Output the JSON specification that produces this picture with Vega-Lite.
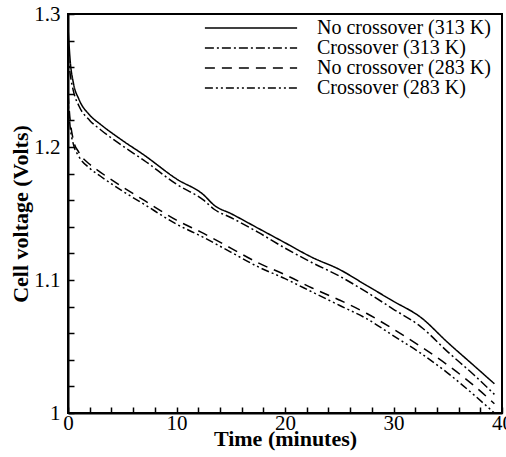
{
  "$schema": "https://vega.github.io/schema/vega-lite/v6.json",
  "width": 434,
  "height": 399,
  "autosize": {"type": "none"},
  "padding": {"left": 68, "top": 14, "right": 4, "bottom": 44},
  "background": "white",
  "config": {
    "view": {"stroke": "black", "strokeWidth": 2},
    "font": "Liberation Serif",
    "axis": {"grid": false, "domainColor": "black", "domainWidth": 2, "tickColor": "black", "tickWidth": 1.5, "labelColor": "black", "labelFont": "Liberation Serif", "labelFontSize": 21, "titleFont": "Liberation Serif", "titleFontSize": 22, "titleFontWeight": "bold", "titleColor": "black", "labelOverlap": false, "labelFlush": false}
  },
  "data": {"values": [
    {"t": 0, "v": 1.290, "s": "No crossover (313 K)"},
    {"t": 0.2, "v": 1.265, "s": "No crossover (313 K)"},
    {"t": 0.5, "v": 1.248, "s": "No crossover (313 K)"},
    {"t": 1, "v": 1.236, "s": "No crossover (313 K)"},
    {"t": 2, "v": 1.224, "s": "No crossover (313 K)"},
    {"t": 3, "v": 1.217, "s": "No crossover (313 K)"},
    {"t": 5, "v": 1.205, "s": "No crossover (313 K)"},
    {"t": 7, "v": 1.194, "s": "No crossover (313 K)"},
    {"t": 10, "v": 1.176, "s": "No crossover (313 K)"},
    {"t": 12.5, "v": 1.164, "s": "No crossover (313 K)"},
    {"t": 13.5, "v": 1.156, "s": "No crossover (313 K)"},
    {"t": 15, "v": 1.150, "s": "No crossover (313 K)"},
    {"t": 17.5, "v": 1.139, "s": "No crossover (313 K)"},
    {"t": 20, "v": 1.128, "s": "No crossover (313 K)"},
    {"t": 22.5, "v": 1.117, "s": "No crossover (313 K)"},
    {"t": 25, "v": 1.108, "s": "No crossover (313 K)"},
    {"t": 27.5, "v": 1.096, "s": "No crossover (313 K)"},
    {"t": 30, "v": 1.084, "s": "No crossover (313 K)"},
    {"t": 32.5, "v": 1.072, "s": "No crossover (313 K)"},
    {"t": 35, "v": 1.053, "s": "No crossover (313 K)"},
    {"t": 37.5, "v": 1.035, "s": "No crossover (313 K)"},
    {"t": 39.3, "v": 1.022, "s": "No crossover (313 K)"},
    {"t": 0, "v": 1.270, "s": "Crossover (313 K)"},
    {"t": 0.2, "v": 1.255, "s": "Crossover (313 K)"},
    {"t": 0.5, "v": 1.242, "s": "Crossover (313 K)"},
    {"t": 1, "v": 1.231, "s": "Crossover (313 K)"},
    {"t": 2, "v": 1.220, "s": "Crossover (313 K)"},
    {"t": 3, "v": 1.213, "s": "Crossover (313 K)"},
    {"t": 5, "v": 1.201, "s": "Crossover (313 K)"},
    {"t": 7, "v": 1.190, "s": "Crossover (313 K)"},
    {"t": 10, "v": 1.172, "s": "Crossover (313 K)"},
    {"t": 12.5, "v": 1.160, "s": "Crossover (313 K)"},
    {"t": 13.5, "v": 1.153, "s": "Crossover (313 K)"},
    {"t": 15, "v": 1.147, "s": "Crossover (313 K)"},
    {"t": 17.5, "v": 1.136, "s": "Crossover (313 K)"},
    {"t": 20, "v": 1.124, "s": "Crossover (313 K)"},
    {"t": 22.5, "v": 1.113, "s": "Crossover (313 K)"},
    {"t": 25, "v": 1.103, "s": "Crossover (313 K)"},
    {"t": 27.5, "v": 1.091, "s": "Crossover (313 K)"},
    {"t": 30, "v": 1.078, "s": "Crossover (313 K)"},
    {"t": 32.5, "v": 1.065, "s": "Crossover (313 K)"},
    {"t": 35, "v": 1.046, "s": "Crossover (313 K)"},
    {"t": 37.5, "v": 1.028, "s": "Crossover (313 K)"},
    {"t": 39.3, "v": 1.014, "s": "Crossover (313 K)"},
    {"t": 0, "v": 1.240, "s": "No crossover (283 K)"},
    {"t": 0.2, "v": 1.220, "s": "No crossover (283 K)"},
    {"t": 0.5, "v": 1.205, "s": "No crossover (283 K)"},
    {"t": 1, "v": 1.196, "s": "No crossover (283 K)"},
    {"t": 2, "v": 1.187, "s": "No crossover (283 K)"},
    {"t": 3, "v": 1.181, "s": "No crossover (283 K)"},
    {"t": 5, "v": 1.170, "s": "No crossover (283 K)"},
    {"t": 7, "v": 1.160, "s": "No crossover (283 K)"},
    {"t": 10, "v": 1.145, "s": "No crossover (283 K)"},
    {"t": 12.5, "v": 1.135, "s": "No crossover (283 K)"},
    {"t": 15, "v": 1.124, "s": "No crossover (283 K)"},
    {"t": 17.5, "v": 1.113, "s": "No crossover (283 K)"},
    {"t": 20, "v": 1.104, "s": "No crossover (283 K)"},
    {"t": 22.5, "v": 1.094, "s": "No crossover (283 K)"},
    {"t": 25, "v": 1.085, "s": "No crossover (283 K)"},
    {"t": 27.5, "v": 1.075, "s": "No crossover (283 K)"},
    {"t": 30, "v": 1.063, "s": "No crossover (283 K)"},
    {"t": 32.5, "v": 1.050, "s": "No crossover (283 K)"},
    {"t": 35, "v": 1.036, "s": "No crossover (283 K)"},
    {"t": 37.5, "v": 1.020, "s": "No crossover (283 K)"},
    {"t": 39.3, "v": 1.007, "s": "No crossover (283 K)"},
    {"t": 0, "v": 1.235, "s": "Crossover (283 K)"},
    {"t": 0.2, "v": 1.215, "s": "Crossover (283 K)"},
    {"t": 0.5, "v": 1.202, "s": "Crossover (283 K)"},
    {"t": 1, "v": 1.193, "s": "Crossover (283 K)"},
    {"t": 2, "v": 1.184, "s": "Crossover (283 K)"},
    {"t": 3, "v": 1.178, "s": "Crossover (283 K)"},
    {"t": 5, "v": 1.167, "s": "Crossover (283 K)"},
    {"t": 7, "v": 1.157, "s": "Crossover (283 K)"},
    {"t": 10, "v": 1.142, "s": "Crossover (283 K)"},
    {"t": 12.5, "v": 1.132, "s": "Crossover (283 K)"},
    {"t": 15, "v": 1.121, "s": "Crossover (283 K)"},
    {"t": 17.5, "v": 1.110, "s": "Crossover (283 K)"},
    {"t": 20, "v": 1.101, "s": "Crossover (283 K)"},
    {"t": 22.5, "v": 1.091, "s": "Crossover (283 K)"},
    {"t": 25, "v": 1.081, "s": "Crossover (283 K)"},
    {"t": 27.5, "v": 1.071, "s": "Crossover (283 K)"},
    {"t": 30, "v": 1.058, "s": "Crossover (283 K)"},
    {"t": 32.5, "v": 1.045, "s": "Crossover (283 K)"},
    {"t": 35, "v": 1.030, "s": "Crossover (283 K)"},
    {"t": 37.5, "v": 1.013, "s": "Crossover (283 K)"},
    {"t": 39.3, "v": 1.000, "s": "Crossover (283 K)"}
  ]},
  "mark": {"type": "line", "color": "black", "strokeWidth": 1.5, "interpolate": "monotone", "clip": true},
  "encoding": {
    "x": {"field": "t", "type": "quantitative", "title": "Time (minutes)",
      "scale": {"domain": [0, 40], "nice": false, "zero": false},
      "axis": {"values": [0,2,4,6,8,10,12,14,16,18,20,22,24,26,28,30,32,34,36,38,40],
        "labelExpr": "datum.value % 10 === 0 ? datum.label : ''",
        "tickSize": -6,
        "labelPadding": 5, "titlePadding": -5}},
    "y": {"field": "v", "type": "quantitative", "title": "Cell voltage (Volts)",
      "scale": {"domain": [1, 1.3], "nice": false, "zero": false},
      "axis": {"values": [1,1.02,1.04,1.06,1.08,1.1,1.12,1.14,1.16,1.18,1.2,1.22,1.24,1.26,1.28,1.3],
        "labelExpr": "abs(datum.value*10 - round(datum.value*10)) < 0.000001 ? format(datum.value, '~g') : ''",
        "tickSize": -6,
        "labelPadding": 14, "titlePadding": 1}},
    "strokeDash": {"field": "s", "type": "nominal", "title": null,
      "scale": {"domain": ["No crossover (313 K)", "Crossover (313 K)", "No crossover (283 K)", "Crossover (283 K)"],
        "range": [[1, 0], [9, 3, 2, 3], [10, 7], [8, 3, 2, 3, 2, 3]]},
      "legend": {"orient": "none", "legendX": 173, "legendY": 4, "padding": 0,
        "symbolType": "M-10,0H10", "symbolSize": 85, "symbolStrokeColor": "black", "symbolStrokeWidth": 1.5,
        "labelFont": "Liberation Serif", "labelFontSize": 20, "labelColor": "black", "labelOffset": 56, "labelLimit": 300, "rowPadding": -2.5}}
  }
}
